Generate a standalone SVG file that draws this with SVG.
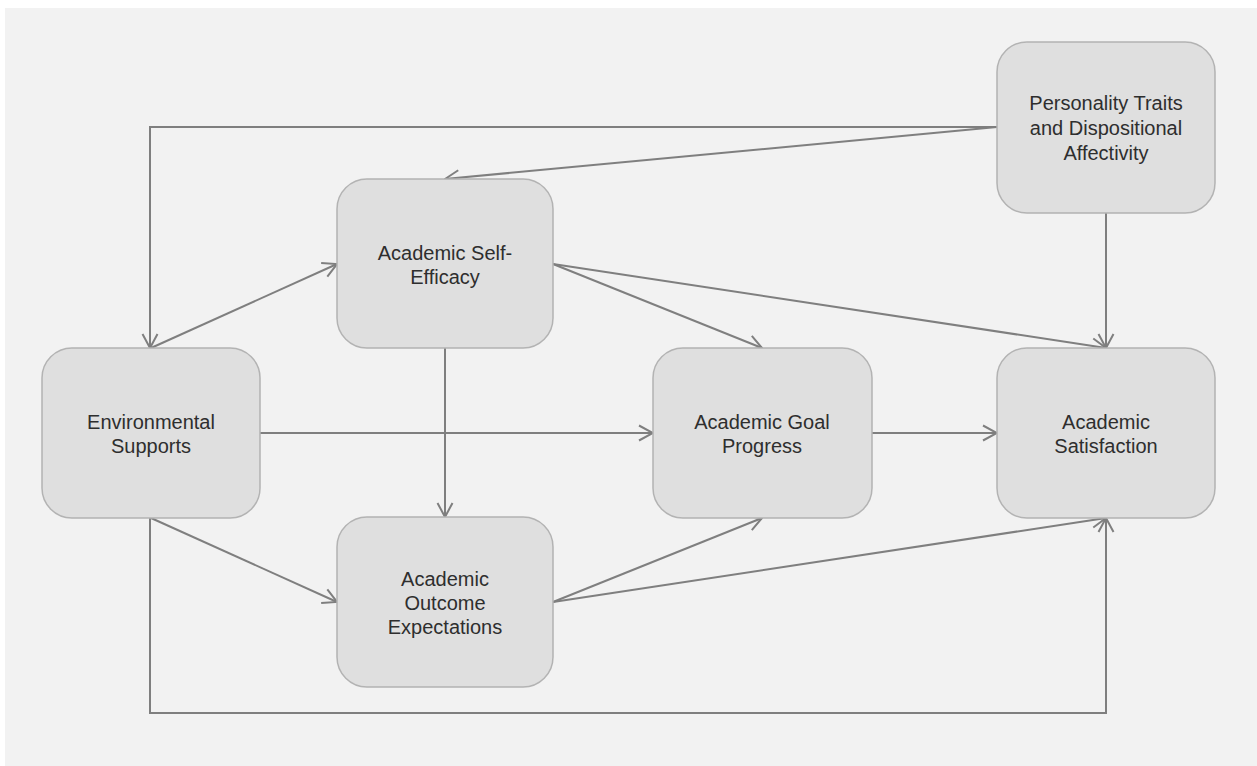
<svg xmlns="http://www.w3.org/2000/svg" width="1257" height="766" viewBox="0 0 1257 766">
<defs>
<marker id="arr" viewBox="0 0 16 18" refX="15" refY="9" markerWidth="16" markerHeight="18" markerUnits="userSpaceOnUse" orient="auto">
<path d="M1,1.5 L15,9 L1,16.5" fill="none" stroke="#7f7f7f" stroke-width="2"/>
</marker>
</defs>
<style>
.node rect{fill:#dfdfdf;stroke:#b3b3b3;stroke-width:1.5}
.node text{font-family:"Liberation Sans",Arial,sans-serif;font-size:20px;fill:#2e2e2e;text-anchor:middle}
#connectors path{fill:none;stroke:#7f7f7f;stroke-width:2}
</style>
<rect x="0" y="0" width="1257" height="766" fill="#ffffff"/>
<rect x="5" y="8" width="1252" height="758" fill="#f2f2f2"/>
<g id="connectors">
<path d="M997,127 L150,127 L150,348" marker-end="url(#arr)"/>
<path d="M997,127 L445,179" marker-end="url(#arr)"/>
<path d="M1106,213 L1106,348" marker-end="url(#arr)"/>
<path d="M151,348 L337,264" marker-end="url(#arr)"/>
<path d="M553,264 L762,348" marker-end="url(#arr)"/>
<path d="M553,264 L1106,348" marker-end="url(#arr)"/>
<path d="M445,348 L445,517" marker-end="url(#arr)"/>
<path d="M260,433 L653,433" marker-end="url(#arr)"/>
<path d="M872,433 L997,433" marker-end="url(#arr)"/>
<path d="M151,518 L337,602" marker-end="url(#arr)"/>
<path d="M553,602 L762,518" marker-end="url(#arr)"/>
<path d="M553,602 L1106,518" marker-end="url(#arr)"/>
<path d="M150,518 L150,713 L1106,713 L1106,518" marker-end="url(#arr)"/>
</g>
<g id="personality" class="node">
<rect x="997" y="42" width="218" height="171" rx="30"/>
<text x="1106" y="110">Personality Traits</text>
<text x="1106" y="135">and Dispositional</text>
<text x="1106" y="160">Affectivity</text>
</g>
<g id="selfefficacy" class="node">
<rect x="337" y="179" width="216" height="169" rx="30"/>
<text x="445" y="260">Academic Self-</text>
<text x="445" y="284">Efficacy</text>
</g>
<g id="environmental" class="node">
<rect x="42" y="348" width="218" height="170" rx="30"/>
<text x="151" y="429">Environmental</text>
<text x="151" y="453">Supports</text>
</g>
<g id="goal" class="node">
<rect x="653" y="348" width="219" height="170" rx="30"/>
<text x="762" y="429">Academic Goal</text>
<text x="762" y="453">Progress</text>
</g>
<g id="satisfaction" class="node">
<rect x="997" y="348" width="218" height="170" rx="30"/>
<text x="1106" y="429">Academic</text>
<text x="1106" y="453">Satisfaction</text>
</g>
<g id="outcome" class="node">
<rect x="337" y="517" width="216" height="170" rx="30"/>
<text x="445" y="586">Academic</text>
<text x="445" y="610">Outcome</text>
<text x="445" y="634">Expectations</text>
</g>
</svg>
